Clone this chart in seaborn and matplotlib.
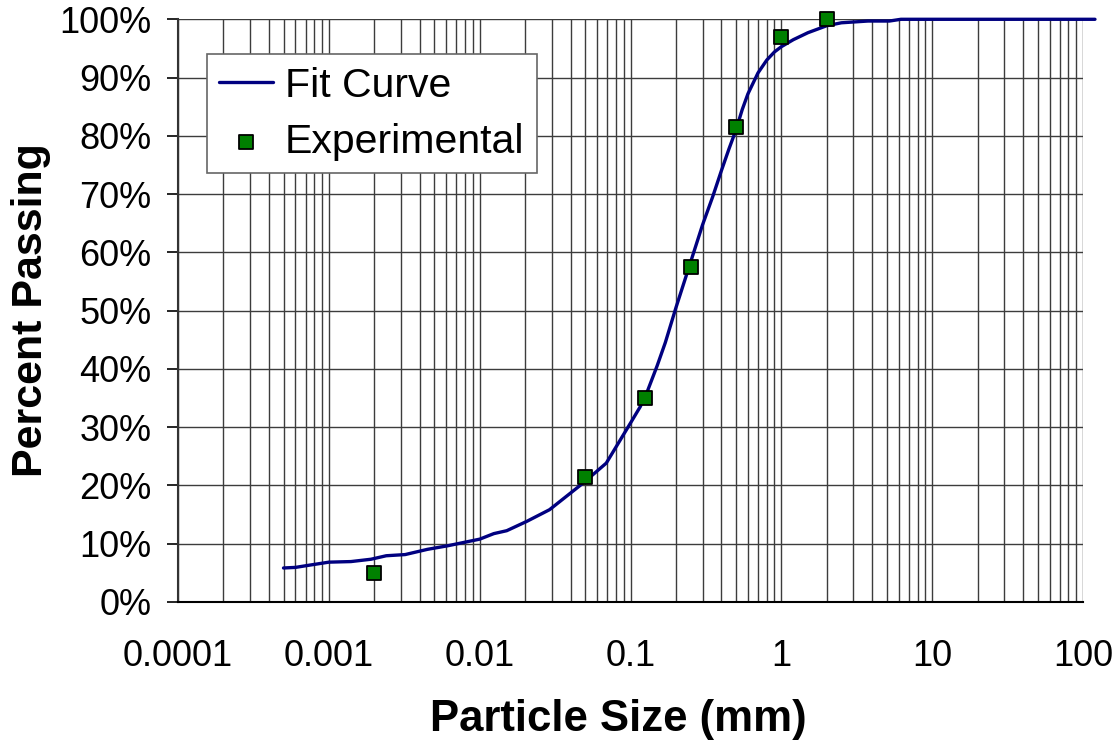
"""
Courbe granulometrique -- fit + points experimentaux
"""

import numpy as np
import pandas as pd
import matplotlib
matplotlib.use('Agg')
import matplotlib.pyplot as plt
import matplotlib.ticker as mticker
import seaborn as sns

# Donnees
fit_size = [0.0005, 0.0006, 0.00075, 0.001, 0.0014, 0.0019, 0.0024, 0.0032,
            0.0045, 0.0061, 0.01, 0.0124, 0.0151, 0.0205, 0.029, 0.0486,
            0.069, 0.1, 0.116, 0.13, 0.15, 0.17, 0.2, 0.25, 0.3, 0.35, 0.4,
            0.45, 0.5, 0.55, 0.6, 0.7, 0.8, 0.9, 1.0, 1.2, 1.5, 2.0, 2.5,
            3.75, 5.2, 6.2, 20, 120]
fit_pass = [5.8, 5.9, 6.3, 6.8, 6.9, 7.3, 7.9, 8.1,
            9.0, 9.6, 10.75, 11.7, 12.2, 13.8, 15.8, 20.4,
            23.8, 30.7, 33.5, 36.3, 40.5, 44.5, 50.5, 58.3, 64.7, 69.5, 74.0,
            77.8, 81.0, 84.5, 87.2, 90.8, 93.0, 94.4, 95.3, 96.5, 97.7, 98.9, 99.4,
            99.7, 99.7, 100.0, 100.0, 100.0]

exp_size = [0.002, 0.05, 0.125, 0.25, 0.5, 1.0, 2.0]
exp_pass = [5.0, 21.5, 35.0, 57.5, 81.5, 97.0, 100.0]

fit = pd.DataFrame({'size': fit_size, 'passing': fit_pass})
exp = pd.DataFrame({'size': exp_size, 'passing': exp_pass})

sns.set_style('white')
plt.rcParams['font.family'] = ['Liberation Sans', 'DejaVu Sans']
plt.rcParams['text.color'] = 'black'
plt.rcParams['axes.labelcolor'] = 'black'
plt.rcParams['xtick.color'] = 'black'
plt.rcParams['ytick.color'] = 'black'

fig = plt.figure(figsize=(11.2, 7.42), dpi=100)
ax = fig.add_axes([0.159, 0.189, 0.808, 0.785])

ax.set_xscale('log')
ax.set_xlim(0.0001, 100)
ax.set_ylim(0, 100)

# grille type Excel
ax.xaxis.set_major_locator(mticker.LogLocator(base=10, numticks=10))
ax.xaxis.set_minor_locator(mticker.LogLocator(base=10, subs=np.arange(2, 10), numticks=50))
ax.yaxis.set_major_locator(mticker.MultipleLocator(10))
ax.grid(True, which='major', axis='both', color='#3c3c3c', linewidth=1.0)
ax.grid(True, which='minor', axis='x', color='#3c3c3c', linewidth=1.0)
ax.set_axisbelow(True)

sns.lineplot(data=fit, x='size', y='passing', ax=ax, color='#000080',
             linewidth=2.4, sort=False, estimator=None, label='Fit Curve',
             clip_on=False, zorder=3)
sns.scatterplot(data=exp, x='size', y='passing', ax=ax, marker='s', s=95,
                color='#008000', edgecolor='black', linewidth=1.3,
                label='Experimental', clip_on=False, zorder=4)

ax.xaxis.set_major_formatter(mticker.FuncFormatter(lambda v, p: f'{v:g}'))
ax.xaxis.set_minor_formatter(mticker.NullFormatter())
ax.yaxis.set_major_formatter(mticker.PercentFormatter(xmax=100, decimals=0))

ax.tick_params(axis='x', which='major', direction='inout', length=20, width=1.2,
               labelsize=26, pad=17)
ax.tick_params(axis='x', which='minor', length=0)
ax.tick_params(axis='y', which='major', direction='out', length=8, width=1.2,
               labelsize=26, pad=11, left=True)

for s in ['top', 'right']:
    ax.spines[s].set_visible(False)
ax.spines['left'].set_color('#333333')
ax.spines['left'].set_linewidth(1.5)
ax.spines['bottom'].set_color('black')
ax.spines['bottom'].set_linewidth(1.5)

ax.set_xlabel('Particle Size (mm)', fontsize=31.5, fontweight='bold', labelpad=18)
ax.xaxis.label.set_x(0.486)
ax.set_ylabel('Percent Passing', fontsize=31, fontweight='bold', labelpad=6)

leg = ax.legend(loc='upper left', bbox_to_anchor=(0.032, 0.94), fontsize=29.5,
                frameon=True, fancybox=False, edgecolor='#666666',
                framealpha=1, handlelength=1.3, handletextpad=0.3,
                borderpad=0.3, labelspacing=0.45, borderaxespad=0)
leg.get_frame().set_linewidth(1.2)

plt.savefig('out.png', dpi=100)
plt.close()
